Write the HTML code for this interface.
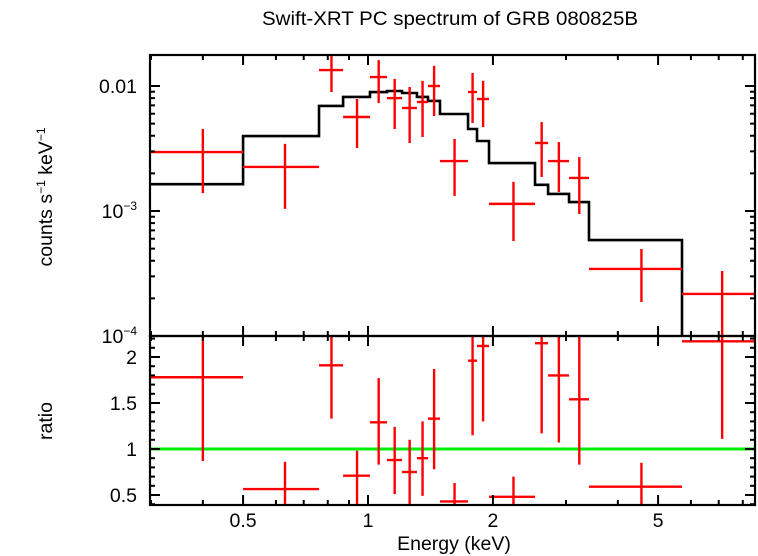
<!DOCTYPE html>
<html><head><meta charset="utf-8"><style>
html,body{margin:0;padding:0;background:#fff;}
svg{display:block;font-family:"Liberation Sans",sans-serif;}
</style></head><body>
<svg id="chart" width="758" height="556" viewBox="0 0 758 556" xmlns="http://www.w3.org/2000/svg">
<text x="450" y="25" font-size="19.5" text-anchor="middle" textLength="376" lengthAdjust="spacingAndGlyphs">Swift-XRT PC spectrum of GRB 080825B</text>
<text transform="translate(52,197) rotate(-90)" font-size="19.5" text-anchor="middle">counts s<tspan font-size="12" dy="-7">−1</tspan><tspan dy="7"> keV</tspan><tspan font-size="12" dy="-7">−1</tspan></text>
<text transform="translate(52,421) rotate(-90)" font-size="19.5" text-anchor="middle">ratio</text>
<text x="454" y="550" font-size="19.5" text-anchor="middle">Energy (keV)</text>
<g id="gTop"></g>
<g id="gBot"></g>
<g id="gFrame"></g>
</svg>
<script>
// Data
const binLo = [0.3,0.5,0.762,0.871,1.011,1.111,1.208,1.312,1.395,1.491,1.742,1.831,1.957,2.526,2.716,3.051,3.408,5.71];
const binHi = [0.5,0.762,0.871,1.011,1.111,1.208,1.312,1.395,1.491,1.742,1.831,1.957,2.526,2.716,3.051,3.408,5.71,8.56];
const rate = [2.96e-3,2.25e-3,1.34e-2,5.65e-3,1.18e-2,8.0e-3,6.67e-3,7.45e-3,1.0e-2,2.51e-3,8.95e-3,7.87e-3,1.14e-3,3.5e-3,2.51e-3,1.84e-3,3.44e-4,2.17e-4];
const rateHi = [4.53e-3,3.44e-3,1.77e-2,7.87e-3,1.61e-2,1.14e-2,9.82e-3,1.10e-2,1.45e-2,3.77e-3,1.27e-2,1.10e-2,1.71e-3,5.15e-3,3.56e-3,2.70e-3,4.97e-4,3.31e-4];
const rateLo = [1.39e-3,1.04e-3,8.95e-3,3.19e-3,7.31e-3,4.53e-3,3.5e-3,3.91e-3,5.75e-3,1.32e-3,5.06e-3,4.70e-3,5.75e-4,1.87e-3,1.42e-3,9.46e-4,1.87e-4,9e-5];
const model = [1.64e-3,3.98e-3,6.92e-3,8.17e-3,8.95e-3,9.12e-3,8.79e-3,8.17e-3,7.59e-3,5.97e-3,4.53e-3,3.63e-3,2.42e-3,1.62e-3,1.37e-3,1.18e-3,5.86e-4,1e-5];
const ratio = [1.78,0.565,1.91,0.71,1.29,0.88,0.75,0.90,1.33,0.43,1.96,2.12,0.48,2.15,1.80,1.54,0.59,2.17];
const ratioHi = [2.6,0.86,2.6,0.98,1.77,1.24,1.10,1.30,1.87,0.63,2.6,2.6,0.70,2.6,2.6,2.6,0.85,2.6];
const ratioLo = [0.87,0.30,1.33,0.30,0.83,0.51,0.40,0.49,0.78,0.30,1.15,1.30,0.30,1.17,1.07,0.83,0.30,1.11];
const xTicks = [0.5,1,2,5];
const xTickLabels = ["0.5","1","2","5"];
const xMinor = [0.3,0.4,0.6,0.7,0.8,0.9,3,4,6,7,8];
const ratioTicks = [0.5,1,1.5,2];
const ratioTickLabels = ["0.5","1","1.5","2"];

const L=150,R=755,T=55,M=336,B=505;
const FS=19.5;
const xs = e => 368 + 415*Math.log10(e);
const yTop = v => 86 - 125*(Math.log10(v)+2);
const yR = r => 449 - 92*(r-1);
const NS="http://www.w3.org/2000/svg";
function mk(parent,tag,attrs){const el=document.createElementNS(NS,tag);for(const k in attrs)el.setAttribute(k,attrs[k]);parent.appendChild(el);return el;}
const svg=document.getElementById('chart');
const gT=document.getElementById('gTop'), gB=document.getElementById('gBot'), gF=document.getElementById('gFrame');

const defs=mk(svg,'defs',{});
const c1=mk(defs,'clipPath',{id:'c1'}); mk(c1,'rect',{x:L,y:T,width:R-L,height:M-T});
const c2=mk(defs,'clipPath',{id:'c2'}); mk(c2,'rect',{x:L,y:M,width:R-L,height:B-M});
gT.setAttribute('clip-path','url(#c1)');
gB.setAttribute('clip-path','url(#c2)');

let d='';
for(let i=0;i<binLo.length;i++){
  const y=Math.min(yTop(model[i]),M+5);
  d+=(i===0?'M':'L')+xs(binLo[i])+','+y+' L'+xs(binHi[i])+','+y+' ';
}
const ml=mk(gT,'path',{d:d,fill:'none',stroke:'#000','stroke-width':2.6});



const gl=mk(gB,'line',{x1:L,x2:R,y1:yR(1),y2:yR(1),stroke:'#00ee00','stroke-width':3});



for(let i=0;i<binLo.length;i++){
  const xc=xs((binLo[i]+binHi[i])/2);
  const g=mk(gT,'g',{stroke:'#ff0000','stroke-width':2.4});
  
  
  mk(g,'line',{x1:xs(binLo[i]),x2:xs(binHi[i]),y1:yTop(rate[i]),y2:yTop(rate[i])});
  mk(g,'line',{x1:xc,x2:xc,y1:yTop(rateHi[i]),y2:yTop(rateLo[i])});
  const h=mk(gB,'g',{stroke:'#ff0000','stroke-width':2.4});
  
  
  mk(h,'line',{x1:xs(binLo[i]),x2:xs(binHi[i]),y1:yR(ratio[i]),y2:yR(ratio[i])});
  mk(h,'line',{x1:xc,x2:xc,y1:yR(ratioHi[i]),y2:yR(ratioLo[i])});
}

const f1=mk(gF,'rect',{x:L,y:T,width:R-L,height:M-T,fill:'none',stroke:'#000','stroke-width':2.2});


const f2=mk(gF,'rect',{x:L,y:M,width:R-L,height:B-M,fill:'none',stroke:'#000','stroke-width':2.2});



function tick(x1,y1,x2,y2){mk(gF,'line',{x1:x1,y1:y1,x2:x2,y2:y2,stroke:'#000','stroke-width':2});}
xTicks.forEach((v,i)=>{const x=xs(v);
  [T,M].forEach(y=>{tick(x,y,x,y+10);});[M,B].forEach(y=>{tick(x,y,x,y-10);});
  const t=mk(gF,'text',{x:x,y:527,'font-size':FS,'text-anchor':'middle'});t.textContent=xTickLabels[i];
  
  
});
xMinor.forEach(v=>{const x=xs(v);
  [T,M].forEach(y=>{tick(x,y,x,y+5);});[M,B].forEach(y=>{tick(x,y,x,y-5);});
});
for(let p=-4;p<=-2;p++){for(let k=1;k<=9;k++){const v=k*Math.pow(10,p);const y=yTop(v);
  if(y<T-0.5||y>M+0.5)continue;const len=k===1?10:5;tick(L,y,L+len,y);tick(R,y,R-len,y);}}
const t1=mk(gF,'text',{x:137,y:yTop(0.01)+7,'font-size':FS,'text-anchor':'end'});t1.textContent='0.01';


[[-3,'−3'],[-4,'−4']].forEach(([p,s])=>{const t=mk(gF,'text',{x:137,y:yTop(Math.pow(10,p))+7,'font-size':FS,'text-anchor':'end'});
  t.innerHTML='10<tspan font-size="12" dy="-8">'+s+'</tspan>';
  
  });
for(let r=0.4;r<=2.21;r+=0.1){const y=yR(r);const major=Math.abs(r*2-Math.round(r*2))<1e-6;const len=major?10:5;tick(L,y,L+len,y);tick(R,y,R-len,y);}
ratioTicks.forEach((v,i)=>{const t=mk(gF,'text',{x:137,y:yR(v)+7,'font-size':FS,'text-anchor':'end'});t.textContent=ratioTickLabels[i];
  
  });
</script>
</body></html>
